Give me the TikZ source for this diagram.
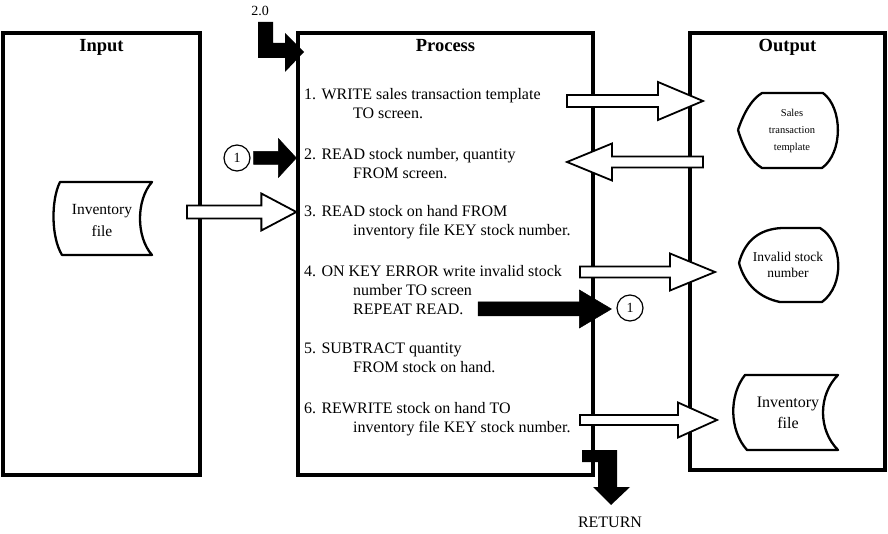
\documentclass[tikz,border=0pt]{standalone}
\usepackage{fontspec}
\setmainfont{Liberation Serif}
\usetikzlibrary{calc,positioning}

\newcommand\cont{\\\hspace*{49pt}}

\tikzset{
  arrshaft/.store in=\arrshaftv, arrhead/.store in=\arrheadv, arrlen/.store in=\arrlenv,
  arrshaft=6pt, arrhead=19pt, arrlen=45pt,
  blockarrow/.style={to path={let \p1=(\tikztostart), \p2=(\tikztotarget), \n1={sign(\x2-\x1)*\arrlenv} in
    (\x1,{\y1+\arrshaftv}) -- ({\x2-(\n1)*1pt},{\y1+\arrshaftv}) -- ({\x2-(\n1)*1pt},{\y1+\arrheadv}) -- (\x2,\y1)
    -- ({\x2-(\n1)*1pt},{\y1-\arrheadv}) -- ({\x2-(\n1)*1pt},{\y1-\arrshaftv}) -- (\x1,{\y1-\arrshaftv}) -- cycle}},
}

\begin{document}
\begin{tikzpicture}[x=1pt, y=-1pt,
  panel/.style={draw, line width=3.3pt, inner sep=0pt},
  title/.style={anchor=base, font=\fontsize{18.5}{20}\selectfont\bfseries},
  steptext/.style={anchor=north west, align=left, inner sep=0pt, font=\fontsize{16}{19}\selectfont},
  symtext/.style={align=center, inner sep=0pt},
  symbol/.style={line width=2.3pt, line join=round},
  connector/.style={draw, circle, line width=1.2pt, minimum size=26pt, inner sep=0pt, font=\fontsize{14}{14}\selectfont},
  whitearrow/.style={blockarrow, draw, fill=white, line width=1.8pt},
  blackarrow/.style={blockarrow, draw, fill=black, line width=0.5pt}]
  \useasboundingbox (0,0) rectangle (888,534);

  % the three columns
  \node[panel, minimum width=197pt, minimum height=442pt] (input) at (101.5,254) {};
  \node[panel, minimum width=295pt, minimum height=442pt] (process) at (445.5,254) {};
  \node[panel, minimum width=195pt, minimum height=437pt] (output) at (787.5,251.5) {};
  \node[title] (intitle) at ([yshift=-20pt]input.north) {Input};
  \node[title] (proctitle) at ([yshift=-20pt]process.north) {Process};
  \node[title] (outtitle) at ([yshift=-20pt]output.north) {Output};

  % process steps
  \node[steptext] (s1) at (304,88) {1. WRITE sales transaction template\cont TO screen.};
  \node[steptext] (s2) at (304,148) {2. READ stock number, quantity\cont FROM screen.};
  \node[steptext] (s3) at (304,205) {3. READ stock on hand FROM\cont inventory file KEY stock number.};
  \node[steptext] (s4) at (304,265) {4. ON KEY ERROR write invalid stock\cont number TO screen\cont REPEAT READ.};
  \node[steptext] (s5) at (304,343) {5. SUBTRACT quantity\cont FROM stock on hand.};
  \node[steptext] (s6) at (304,402) {6. REWRITE stock on hand TO\cont inventory file KEY stock number.};

  % input and output symbols
  \node[symtext, font=\fontsize{15.5}{22}\selectfont] (infile) at (102,221) {Inventory\\file};
  \draw[symbol] (60,182) .. controls (51,200) and (51,237) .. (62,255) -- (152,255)
    .. controls (136,237) and (136,200) .. (152,182) -- cycle;
  \node[symtext, font=\fontsize{10.5}{17}\selectfont] (salesdisp) at (792,131) {Sales\\transaction\\template};
  \draw[symbol] (738,130) .. controls (744,112) and (752,99) .. (762,93) -- (823,93)
    .. controls (843,108) and (843,153) .. (822,168) -- (762,168) .. controls (752,162) and (744,150) .. (738,130);
  \node[symtext, font=\fontsize{13.5}{16}\selectfont] (invdisp) at (788,265) {Invalid stock\\number};
  \draw[symbol] (739,263) .. controls (745,240) and (760,229) .. (782,228) -- (820,228)
    .. controls (843,242) and (845,285) .. (822,302) -- (780,302) .. controls (760,298) and (745,285) .. (739,263);
  \node[symtext, font=\fontsize{16}{21}\selectfont] (outfile) at (788,413) {Inventory\\file};
  \draw[symbol] (745,375) .. controls (729,395) and (729,430) .. (747,450) -- (838,450)
    .. controls (818,430) and (818,395) .. (838,375) -- cycle;

  % data flows
  \coordinate (w1a) at (567,101); \coordinate (w1b) at (703,101);
  \coordinate (w2a) at (703,162); \coordinate (w2b) at (567,162);
  \coordinate (w3a) at (187,212);
  \coordinate (w4a) at (580,272); \coordinate (w4b) at (715,272);
  \coordinate (w6a) at (580,420); \coordinate (w6b) at (717,420);
  \draw[whitearrow] (w1a) to (w1b);
  \draw[whitearrow, arrshaft=5.5pt, arrhead=18.5pt] (w2a) to (w2b);
  \draw[whitearrow, arrshaft=6.5pt, arrhead=18.5pt, arrlen=35pt] (w3a) to (process.west |- w3a);
  \draw[whitearrow, arrshaft=5.5pt, arrhead=18.5pt] (w4a) to (w4b);
  \draw[whitearrow, arrshaft=5pt, arrhead=17.5pt, arrlen=39pt] (w6a) to (w6b);

  % control flow
  \node[connector] (c1) at (237,158) {1};
  \node[connector] (c2) at (630,308) {1};
  \coordinate (rr) at (478,309);
  \draw[blackarrow, arrshaft=6.5pt, arrhead=19.5pt, arrlen=18pt] ([xshift=3pt]c1.east) to (c1 -| process.west);
  \draw[blackarrow, arrshaft=7pt, arrhead=19pt, arrlen=32pt] (rr) to ([xshift=-5pt]c2.west);

  \node[font=\fontsize{14}{14}\selectfont] (ver) at (260,11) {2.0};
  \fill (258,22) -- (273,22) -- (273,43) -- (285,43) -- (285,33) -- (304,52) -- (285,72) -- (285,58) -- (258,58) -- cycle;
  \fill (582,450) -- (617,450) -- (617,487) -- (630,487) -- (611,505) -- (593,487) -- (598,487) -- (598,462) -- (582,462) -- cycle;
  \node[font=\fontsize{16}{16}\selectfont] (ret) at (610,522) {RETURN};
\end{tikzpicture}
\end{document}
